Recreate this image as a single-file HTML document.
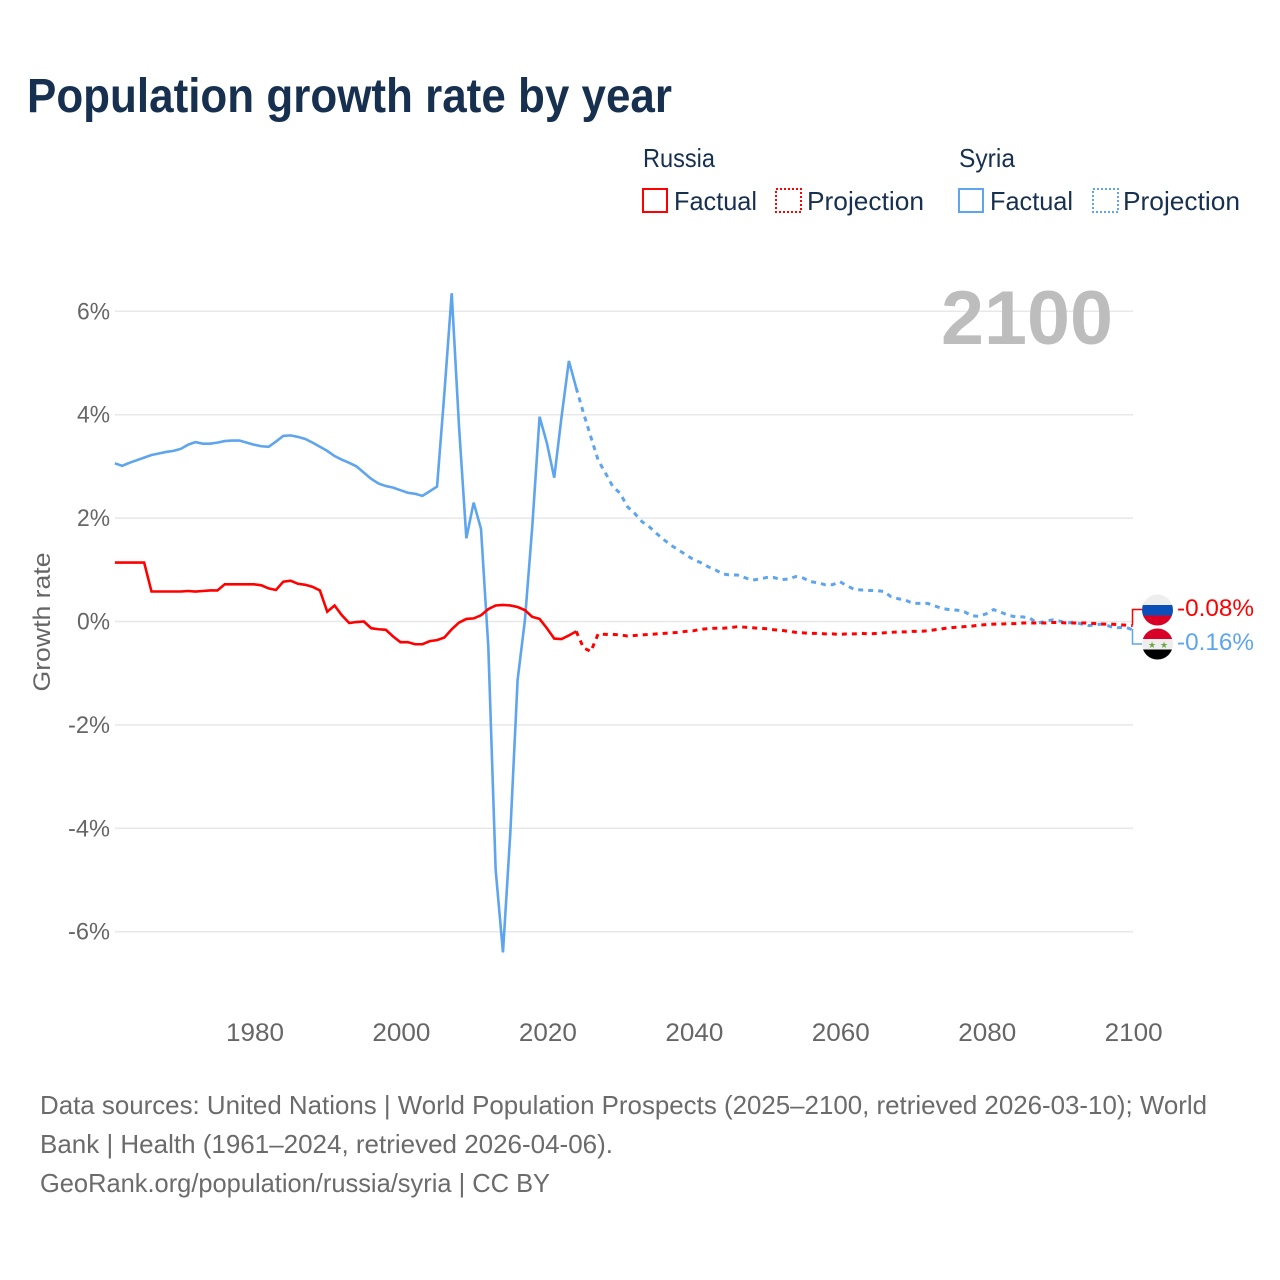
<!DOCTYPE html>
<html lang="en">
<head>
<meta charset="utf-8">
<title>Population growth rate by year</title>
<style>
html,body{margin:0;padding:0;background:#fff;}
svg{display:block;font-family:"Liberation Sans",sans-serif;}
</style>
</head>
<body>
<svg id="chart" width="1280" height="1280" viewBox="0 0 1280 1280">
  <defs>
    <clipPath id="clip-ru"><circle cx="1157.5" cy="610" r="15.5"/></clipPath>
    <clipPath id="clip-sy"><circle cx="1157.5" cy="644" r="15.5"/></clipPath>
  </defs>
  <rect width="1280" height="1280" fill="#fff"/>
  <text x="27" y="112" font-size="48" font-weight="700" fill="#18304f" textLength="645" lengthAdjust="spacingAndGlyphs">Population growth rate by year</text>

  <g font-size="26" fill="#18304f">
    <text x="643" y="167" textLength="72" lengthAdjust="spacingAndGlyphs">Russia</text>
    <text x="959" y="167" textLength="56" lengthAdjust="spacingAndGlyphs">Syria</text>
    <rect x="643" y="189" width="24" height="23" fill="none" stroke="#ff0000" stroke-width="2"/>
    <text x="674" y="210" textLength="83" lengthAdjust="spacingAndGlyphs">Factual</text>
    <rect x="776" y="189" width="25" height="23" fill="none" stroke="#ff0000" stroke-width="2" stroke-dasharray="2 2" shape-rendering="crispEdges"/>
    <text x="807" y="210" textLength="117" lengthAdjust="spacingAndGlyphs">Projection</text>
    <rect x="959" y="189" width="24" height="23" fill="none" stroke="#5ea5ee" stroke-width="2"/>
    <text x="990" y="210" textLength="83" lengthAdjust="spacingAndGlyphs">Factual</text>
    <rect x="1093" y="189" width="25" height="23" fill="none" stroke="#5ea5ee" stroke-width="2" stroke-dasharray="2 2" shape-rendering="crispEdges"/>
    <text x="1123" y="210" textLength="117" lengthAdjust="spacingAndGlyphs">Projection</text>
  </g>

  <g id="grid"></g>
  <g id="ytick-labels"></g>
  <g id="xtick-labels"></g>
  <text transform="translate(50,622) rotate(-90)" text-anchor="middle" font-size="24" fill="#666" textLength="139" lengthAdjust="spacingAndGlyphs">Growth rate</text>

  <text x="941" y="344" font-size="76" font-weight="700" fill="#bdbdbd" textLength="172" lengthAdjust="spacingAndGlyphs">2100</text>

  <g id="series"></g>

  <g fill="none" stroke-width="1.500">
    <path d="M1132.500 625V609.500H1142" stroke="#ff0000"/>
    <path d="M1132.500 629V644H1142" stroke="#5ea5ee"/>
  </g>

  <g clip-path="url(#clip-ru)">
    <rect x="1142" y="594" width="31" height="11" fill="#eeeeee"/>
    <rect x="1142" y="605" width="31" height="10.500" fill="#0a50b8"/>
    <rect x="1142" y="615.500" width="31" height="11" fill="#d80027"/>
  </g>
  <g clip-path="url(#clip-sy)">
    <rect x="1142" y="628" width="31" height="11" fill="#d80027"/>
    <rect x="1142" y="639" width="31" height="10.500" fill="#eeeeee"/>
    <rect x="1142" y="649.500" width="31" height="11" fill="#000000"/>
    <text x="1152" y="648" font-size="9" text-anchor="middle" fill="#6da544">★</text>
    <text x="1164" y="648" font-size="9" text-anchor="middle" fill="#6da544">★</text>
  </g>

  <text x="1177" y="616" font-size="24" fill="#ff0000" textLength="77" lengthAdjust="spacingAndGlyphs">-0.08%</text>
  <text x="1177" y="650" font-size="24" fill="#5ea5ee" textLength="77" lengthAdjust="spacingAndGlyphs">-0.16%</text>

  <g font-size="26" fill="#6b6b6b">
    <text x="40" y="1114" textLength="1167" lengthAdjust="spacingAndGlyphs">Data sources: United Nations | World Population Prospects (2025–2100, retrieved 2026-03-10); World</text>
    <text x="40" y="1153" textLength="573" lengthAdjust="spacingAndGlyphs">Bank | Health (1961–2024, retrieved 2026-04-06).</text>
    <text x="40" y="1192" textLength="510" lengthAdjust="spacingAndGlyphs">GeoRank.org/population/russia/syria | CC BY</text>
  </g>
</svg>
<script>
// Chart data
const factualStartYear = 1961;
const projectionStartYear = 2024;
const yTicks = [6, 4, 2, 0, -2, -4, -6];
const yTickLabels = ["6%", "4%", "2%", "0%", "-2%", "-4%", "-6%"];
const xTicks = [1980, 2000, 2020, 2040, 2060, 2080, 2100];
const russiaFactual = [
  1.14,1.14,1.14,1.14,1.14,0.58,0.58,0.58,0.58,0.58,
  0.59,0.58,0.59,0.60,0.60,0.72,0.72,0.72,0.72,0.72,
  0.70,0.64,0.61,0.77,0.79,0.73,0.71,0.67,0.60,0.19,
  0.31,0.12,-0.03,-0.01,0.00,-0.13,-0.15,-0.16,-0.29,-0.40,
  -0.40,-0.44,-0.44,-0.38,-0.36,-0.31,-0.15,-0.02,0.05,0.06,
  0.12,0.24,0.31,0.32,0.31,0.28,0.22,0.09,0.05,-0.13,
  -0.33,-0.34,-0.27,-0.19
];
const russiaProjection = [
  -0.19,-0.51,-0.58,-0.24,-0.25,-0.25,-0.26,-0.28,-0.27,-0.26,
  -0.25,-0.24,-0.23,-0.22,-0.21,-0.19,-0.18,-0.15,-0.14,-0.13,
  -0.13,-0.12,-0.10,-0.11,-0.12,-0.13,-0.14,-0.16,-0.17,-0.19,
  -0.21,-0.22,-0.23,-0.23,-0.24,-0.24,-0.25,-0.24,-0.24,-0.23,
  -0.24,-0.23,-0.22,-0.21,-0.20,-0.20,-0.19,-0.19,-0.18,-0.16,
  -0.14,-0.12,-0.11,-0.10,-0.09,-0.07,-0.06,-0.05,-0.05,-0.04,
  -0.04,-0.03,-0.03,-0.03,-0.03,-0.02,-0.02,-0.03,-0.03,-0.03,
  -0.03,-0.04,-0.05,-0.05,-0.06,-0.07,-0.08
];
const syriaFactual = [
  3.06,3.01,3.07,3.12,3.17,3.22,3.25,3.28,3.30,3.34,
  3.42,3.47,3.44,3.44,3.46,3.49,3.50,3.50,3.46,3.42,
  3.39,3.38,3.48,3.59,3.60,3.57,3.53,3.46,3.38,3.30,
  3.20,3.13,3.07,3.00,2.88,2.76,2.67,2.62,2.59,2.54,
  2.49,2.47,2.43,2.52,2.61,4.42,6.35,3.77,1.61,2.30,
  1.79,-0.49,-4.80,-6.40,-4.10,-1.13,0.03,1.83,3.96,3.45,
  2.78,3.96,5.04,4.52
];
const syriaProjection = [
  4.52,4.03,3.57,3.12,2.87,2.61,2.48,2.22,2.09,1.93,
  1.83,1.70,1.58,1.47,1.38,1.29,1.20,1.14,1.06,1.00,
  0.92,0.90,0.90,0.85,0.80,0.82,0.85,0.85,0.81,0.82,
  0.87,0.84,0.77,0.75,0.71,0.71,0.77,0.69,0.62,0.61,
  0.60,0.60,0.58,0.48,0.44,0.41,0.35,0.35,0.35,0.30,
  0.25,0.23,0.22,0.19,0.11,0.10,0.15,0.23,0.18,0.12,
  0.09,0.09,0.06,-0.03,0.00,0.03,0.01,-0.03,-0.01,-0.05,
  -0.08,-0.06,-0.05,-0.10,-0.12,-0.11,-0.16
];

const NS = "http://www.w3.org/2000/svg";
function xScale(year) { return 254 + (year - 1980) * 7.3225; }
function yScale(v) { return 621.5 - v * 51.7; }
function linePath(values, startYear) {
  return values.map(function (v, i) {
    return (i ? "L" : "M") + xScale(startYear + i).toFixed(2) + " " + yScale(v).toFixed(2);
  }).join("");
}

const gridGroup = document.getElementById("grid");
const yLabelGroup = document.getElementById("ytick-labels");
const xLabelGroup = document.getElementById("xtick-labels");
const seriesGroup = document.getElementById("series");

yTicks.forEach(function (t, i) {
  const line = document.createElementNS(NS, "line");
  line.setAttribute("x1", 115);
  line.setAttribute("x2", 1133);
  line.setAttribute("y1", yScale(t));
  line.setAttribute("y2", yScale(t));
  line.setAttribute("stroke", "#e8e8e8");
  line.setAttribute("stroke-width", 1.5);
  
  
  gridGroup.appendChild(line);

  const label = document.createElementNS(NS, "text");
  label.setAttribute("x", 110);
  label.setAttribute("y", yScale(t) + 8);
  label.setAttribute("text-anchor", "end");
  label.setAttribute("font-size", 24);
  label.setAttribute("fill", "#666");
  label.setAttribute("textLength", t < 0 ? 42 : 33);
  label.setAttribute("lengthAdjust", "spacingAndGlyphs");
  label.textContent = yTickLabels[i];
  
  
  yLabelGroup.appendChild(label);
});

xTicks.forEach(function (t) {
  const label = document.createElementNS(NS, "text");
  label.setAttribute("x", xScale(t) + 1);
  label.setAttribute("y", 1041);
  label.setAttribute("text-anchor", "middle");
  label.setAttribute("font-size", 25);
  label.setAttribute("fill", "#666");
  label.setAttribute("textLength", 58);
  label.setAttribute("lengthAdjust", "spacingAndGlyphs");
  label.textContent = String(t);
  
  
  xLabelGroup.appendChild(label);
});

function addLine(values, startYear, color, dash) {
  const path = document.createElementNS(NS, "path");
  path.setAttribute("d", linePath(values, startYear));
  path.setAttribute("fill", "none");
  path.setAttribute("stroke", color);
  path.setAttribute("stroke-width", dash ? 3 : 2.6);
  path.setAttribute("stroke-linejoin", "miter");
  if (dash) path.setAttribute("stroke-dasharray", dash);
  seriesGroup.appendChild(path);
  return path;
}

const syriaFactualLine = addLine(syriaFactual, factualStartYear, "#5ea5ee", null);


const syriaProjectionLine = addLine(syriaProjection, projectionStartYear, "#5ea5ee", "5 5");


const russiaFactualLine = addLine(russiaFactual, factualStartYear, "#ff0000", null);


const russiaProjectionLine = addLine(russiaProjection, projectionStartYear, "#ff0000", "5 5");


</script>
</body>
</html>
